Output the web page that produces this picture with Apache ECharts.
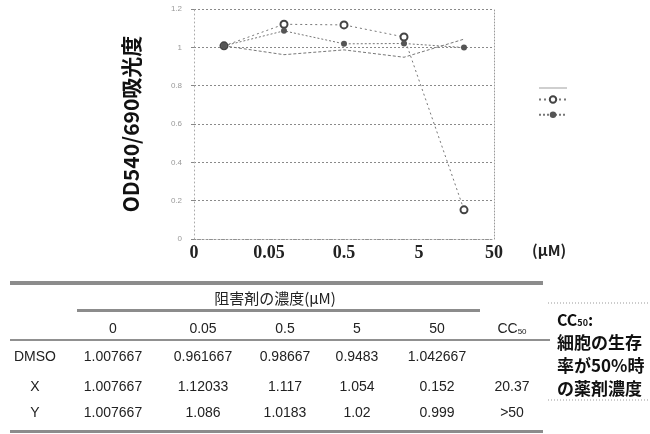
<!DOCTYPE html>
<html>
<head>
<meta charset="utf-8">
<style>
  html, body { margin: 0; padding: 0; background: #fff; }
  #chart { width: 650px; height: 434px; }
</style>
<script src="https://cdn.jsdelivr.net/npm/echarts@6/dist/echarts.min.js"></script>
</head>
<body>
<div id="chart"></div>
<script>
// 濃度（カテゴリ）
const concLabels = ['0', '0.05', '0.5', '5', '50'];
// 吸光度の平均値
const dmsoValues = [1.007667, 0.961667, 0.98667, 0.9483, 1.042667];
const xValues = [1.007667, 1.12033, 1.117, 1.054, 0.152];
const yValues = [1.007667, 1.086, 1.0183, 1.02, 0.999];
const seriesNames = ['DMSO', 'X', 'Y'];
const cc50Values = ['', '20.37', '>50'];
const cc50Note = ['細胞の生存', '率が50%時', 'の薬剤濃度'];

const chart = echarts.init(document.getElementById('chart'));

const lineGray = '#777';
const tableFont = '14px "Liberation Sans", sans-serif';

// 表の位置
const colX = [113, 203, 285, 357, 437, 512];
const rowY = [357, 387, 413];
const allValues = [dmsoValues, xValues, yValues];

function txt(x, y, text, font, fill, align) {
    return {
        type: 'text', x: x, y: y, silent: true,
        style: {
            text: text, font: font, fill: fill || '#222',
            align: align || 'center', verticalAlign: 'middle',
            textAlign: align || 'center', textVerticalAlign: 'middle'
        }
    };
}
function bar(x, y, w, h, color) {
    return { type: 'rect', silent: true, shape: { x: x, y: y, width: w, height: h }, style: { fill: color || '#8a8a8a' } };
}

const graphics = [];
// 表の罫線
graphics.push(bar(10, 281, 533, 4, '#8c8c8c'));
graphics.push(bar(77, 309, 403, 3, '#8c8c8c'));
graphics.push(bar(10, 339, 540, 2, '#909090'));
graphics.push(bar(10, 430, 533, 3, '#8c8c8c'));
graphics.push(txt(275, 298, '阻害剤の濃度(μM)', '15px "Noto Sans CJK JP", sans-serif', '#222'));
// 列見出し
concLabels.forEach((c, i) => graphics.push(txt(colX[i], 329, c, tableFont)));
graphics.push({
    type: 'text', x: colX[5], y: 329, silent: true,
    style: {
        text: '{a|CC}{b|50}', fill: '#222', align: 'center', verticalAlign: 'middle',
        textAlign: 'center', textVerticalAlign: 'middle',
        rich: {
            a: { fontSize: 14, fontFamily: 'Liberation Sans', fill: '#222' },
            b: { fontSize: 8, fontFamily: 'Liberation Sans', fill: '#222', padding: [6, 0, 0, 0] }
        }
    }
});
// 行
seriesNames.forEach((name, r) => {
    graphics.push(txt(35, rowY[r], name, tableFont));
    allValues[r].forEach((v, i) => graphics.push(txt(colX[i], rowY[r], String(v), tableFont)));
    if (cc50Values[r]) graphics.push(txt(colX[5], rowY[r], cc50Values[r], tableFont));
});
// CC50 の注記
graphics.push({ type: 'line', silent: true, shape: { x1: 548, y1: 303, x2: 650, y2: 303 }, style: { stroke: '#999', lineWidth: 1, lineDash: [1, 2] } });
graphics.push({ type: 'line', silent: true, shape: { x1: 548, y1: 400, x2: 650, y2: 400 }, style: { stroke: '#999', lineWidth: 1, lineDash: [1, 2] } });
graphics.push({
    type: 'text', x: 557, y: 320, silent: true,
    style: {
        text: '{a|CC}{b|50}{a|:}', fill: '#111', align: 'left', verticalAlign: 'middle',
        textAlign: 'left', textVerticalAlign: 'middle',
        rich: {
            a: { fontSize: 16, fontWeight: 'bold', fontFamily: 'Noto Sans CJK JP', fill: '#111' },
            b: { fontSize: 9, fontWeight: 'bold', fontFamily: 'Noto Sans CJK JP', fill: '#111', padding: [6, 0, 0, 0] }
        }
    }
});
cc50Note.forEach((t, i) => graphics.push(txt(557, 343 + i * 23, t, 'bold 17px "Noto Sans CJK JP", sans-serif', '#111', 'left')));

const option = {
    animation: false,
    backgroundColor: '#fff',
    grid: { left: 194, right: 156, top: 9, bottom: 195 },
    legend: {
        orient: 'vertical',
        left: 533,
        top: 79,
        itemWidth: 28,
        itemHeight: 8,
        itemGap: 7,
        formatter: () => '',
        data: [{ name: seriesNames[0], icon: 'path://M0,0H40V1H0Z' }, seriesNames[1], seriesNames[2]]
    },
    xAxis: [
        {
            type: 'category',
            data: concLabels,
            boundaryGap: true,
            show: false
        },
        {
            type: 'category',
            data: concLabels,
            boundaryGap: false,
            position: 'bottom',
            axisLine: { lineStyle: { color: '#999', type: [1, 2] } },
            axisTick: { show: false },
            axisLabel: {
                margin: 5,
                color: '#222',
                fontSize: 18,
                fontWeight: 'bold',
                fontFamily: '"Liberation Serif", serif'
            },
            name: '(μM)',
            nameLocation: 'end',
            nameGap: 38,
            nameTextStyle: {
                color: '#222', fontSize: 15, fontWeight: 'bold',
                fontFamily: '"Noto Sans CJK JP", sans-serif',
                verticalAlign: 'top', padding: [4, 0, 0, 0]
            }
        }
    ],
    yAxis: [
        {
            type: 'value',
            min: 0,
            max: 1.2,
            interval: 0.2,
            name: 'OD540/690吸光度',
            nameLocation: 'middle',
            nameGap: 52,
            nameRotate: 90,
            nameTextStyle: {
                color: '#111', fontSize: 21, fontWeight: 'bold',
                fontFamily: '"Noto Sans CJK JP", sans-serif'
            },
            axisLine: { show: true, lineStyle: { color: '#aaa', type: [1, 3] } },
            axisTick: { show: true, length: 3, lineStyle: { color: '#888' } },
            axisLabel: { color: '#999', fontSize: 8, margin: 12 },
            splitLine: { lineStyle: { color: '#8a8a8a', type: [2, 2], width: 1 } }
        },
        {
            type: 'value',
            min: 0,
            max: 1.2,
            interval: 0.2,
            position: 'right',
            axisLine: { show: true, lineStyle: { color: '#999', type: [1, 2] } },
            axisTick: { show: false },
            axisLabel: { show: false },
            splitLine: { show: false }
        }
    ],
    series: [
        {
            name: seriesNames[0],
            type: 'line',
            xAxisIndex: 0,
            data: dmsoValues,
            symbol: 'none',
            lineStyle: { color: lineGray, width: 1, type: [3, 2] },
            itemStyle: { color: lineGray }
        },
        {
            name: seriesNames[1],
            type: 'line',
            xAxisIndex: 0,
            data: xValues,
            symbol: 'emptyCircle',
            symbolSize: 7,
            lineStyle: { color: lineGray, width: 1, type: [2, 3] },
            itemStyle: { color: '#444', borderWidth: 1.2 }
        },
        {
            name: seriesNames[2],
            type: 'line',
            xAxisIndex: 0,
            data: yValues,
            symbol: 'circle',
            symbolSize: 6,
            lineStyle: { color: lineGray, width: 1, type: [2, 2] },
            itemStyle: { color: '#555' }
        }
    ],
    graphic: graphics
};

chart.setOption(option);
</script>
</body>
</html>
